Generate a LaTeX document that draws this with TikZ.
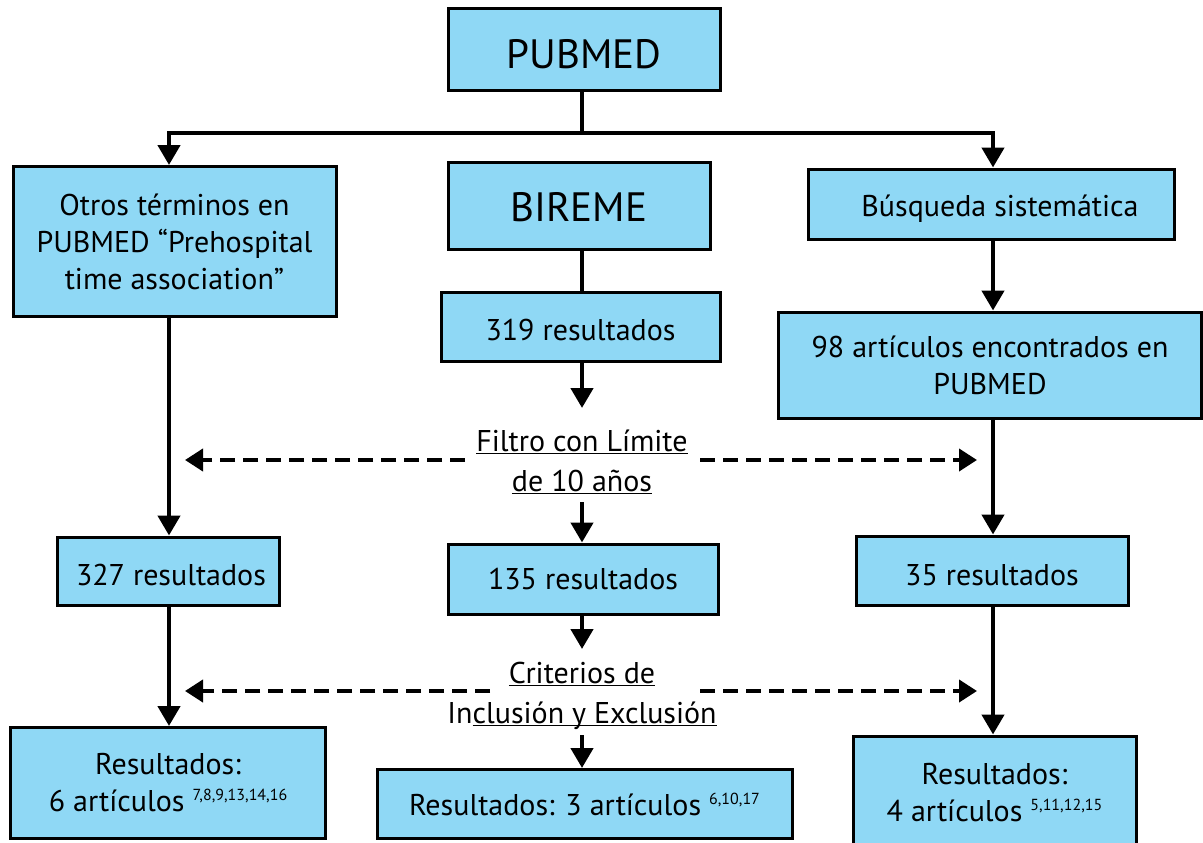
\documentclass[tikz,border=0pt]{standalone}
\usepackage{fontspec}
\setmainfont{PT Sans}
\usetikzlibrary{arrows.meta}
\definecolor{boxblue}{RGB}{143,216,245}
\newcommand{\ulx}[1]{\underline{\raisebox{0pt}[\height][0pt]{#1}}}
\newcommand{\supx}[1]{\raisebox{11pt}{\fontsize{16}{16}\selectfont #1}}
\newcommand{\dn}[2]{\raisebox{-#1pt}[\height][\depth]{#2}}
\tikzset{
  box/.style={draw=black, line width=3pt, fill=boxblue, inner sep=0pt, align=center,
    font=\fontsize{30}{37}\selectfont},
  bigbox/.style={box, font=\fontsize{41}{46}\selectfont},
  conn/.style={line width=4.5pt},
  arr/.style={conn, -{Triangle[width=22pt,length=20pt]}},
  darr/.style={line width=4pt, -{Triangle[width=22pt,length=18pt]}, dash pattern=on 15pt off 8pt},
  lbl/.style={inner sep=0pt, align=center, font=\fontsize{30}{40}\selectfont}
}
\begin{document}
\begin{tikzpicture}[x=1pt,y=-1pt]
\useasboundingbox (0,0) rectangle (1203,843);
% column coordinates
\coordinate (cL) at (169,0);
\coordinate (cM) at (582,0);
\coordinate (cR) at (993,0);
% boxes
\node[bigbox, minimum width=272pt, minimum height=82pt] (pubmed) at (584,50) {\dn{4}{PUBMED}};
\node[box, minimum width=323pt, minimum height=150pt] (otros) at (174.5,241.5)
  {Otros términos en\\PUBMED “Prehospital\\time association”};
\node[bigbox, minimum width=262pt, minimum height=87pt] (bireme) at (579,205.5) {\dn{2}{BIREME}};
\node[box, minimum width=279pt, minimum height=69pt] (r319) at (580.5,326.5) {\dn{3}{319 resultados}};
\node[box, minimum width=366pt, minimum height=70pt] (busq) at (991,204) {\dn{5}{\hspace*{18pt}Búsqueda sistemática}};
\node[box, minimum width=423pt, minimum height=106pt] (a98) at (990,365) {98 artículos encontrados en\\PUBMED};
\node[box, minimum width=222pt, minimum height=68pt] (r327) at (168,571) {\dn{4}{\hspace*{6pt}327 resultados}};
\node[box, minimum width=270pt, minimum height=70pt] (r135) at (583,579) {135 resultados};
\node[box, minimum width=272pt, minimum height=69pt] (r35) at (992,570.5) {\dn{5}{35 resultados}};
\node[box, minimum width=315pt, minimum height=111pt] (res6) at (168,783)
  {Resultados:\\6 artículos \supx{7,8,9,13,14,16}};
\node[box, minimum width=415pt, minimum height=69pt] (res3) at (584.5,804) {Resultados: 3 artículos \supx{6,10,17}};
\node[box, minimum width=283pt, minimum height=114pt] (res4) at (994.5,793)
  {Resultados:\\4 artículos \supx{5,11,12,15}};
% middle labels
\node[lbl] (filtro) at (582,462) {\ulx{Filtro con Límite}\\\ulx{de 10 años}};
\node[lbl] (crit) at (582,694) {\ulx{Criterios de}\\In\ulx{clusión y Exclusión}};
% free ends
\coordinate (jM) at (582,133);
\coordinate (m1) at (582,408);
\coordinate (m2) at (582,502);
\coordinate (m3) at (582,649);
\coordinate (m4) at (582,735);
\coordinate (dL1s) at (465,460);
\coordinate (dL1e) at (185,460);
\coordinate (dR1s) at (700,460);
\coordinate (dR1e) at (977,460);
\coordinate (dL2s) at (490,691);
\coordinate (dL2e) at (185,691);
\coordinate (dR2s) at (700,691);
\coordinate (dR2e) at (977,691);
% connectors
\draw[conn] (pubmed.south -| cM) -- (jM);
\draw[arr] (jM) -| (otros.north -| cL);
\draw[arr] (jM) -| (busq.north -| cR);
\draw[arr] (otros.south -| cL) -- (r327.north -| cL);
\draw[arr] (r327.south -| cL) -- (res6.north -| cL);
\draw[conn] (bireme.south -| cM) -- (r319.north -| cM);
\draw[arr] (r319.south -| cM) -- (m1);
\draw[arr] (m2) -- (r135.north -| cM);
\draw[arr] (r135.south -| cM) -- (m3);
\draw[arr] (m4) -- (res3.north -| cM);
\draw[arr] (busq.south -| cR) -- (a98.north -| cR);
\draw[arr] (a98.south -| cR) -- (r35.north -| cR);
\draw[arr] (r35.south -| cR) -- (res4.north -| cR);
\draw[darr] (dL1s) -- (dL1e);
\draw[darr] (dR1s) -- (dR1e);
\draw[darr] (dL2s) -- (dL2e);
\draw[darr] (dR2s) -- (dR2e);
\end{tikzpicture}
\end{document}
